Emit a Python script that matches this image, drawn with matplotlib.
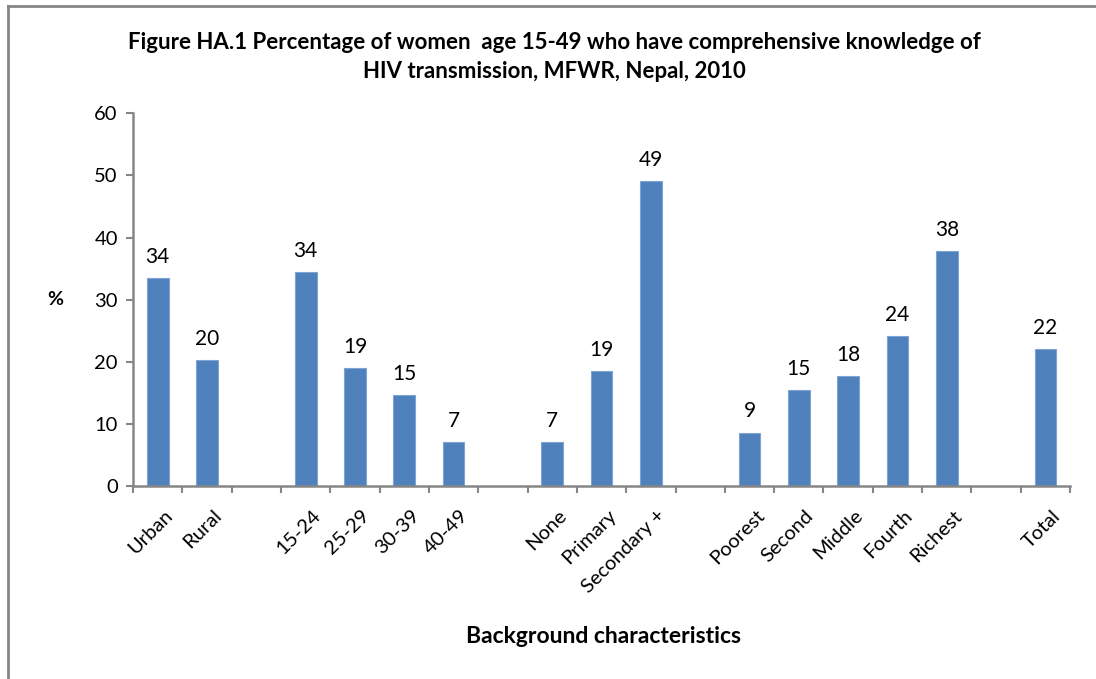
import matplotlib
matplotlib.use("Agg")
import matplotlib.pyplot as plt
from matplotlib.lines import Line2D

categories = ["Urban", "Rural", "", "15-24", "25-29", "30-39", "40-49", "",
              "None", "Primary", "Secondary +", "", "Poorest", "Second",
              "Middle", "Fourth", "Richest", "", "Total"]
values = [33.5, 20.3, None, 34.4, 19.0, 14.7, 7.0, None,
          7.0, 18.5, 49.1, None, 8.6, 15.5, 17.7, 24.1, 37.8, None, 22.0]
value_labels = ["34", "20", "", "34", "19", "15", "7", "",
                "7", "19", "49", "", "9", "15", "18", "24", "38", "", "22"]
yticks = [0, 10, 20, 30, 40, 50, 60]

plt.rcParams['font.family'] = ['Lato', 'DejaVu Sans']
gray = "#868686"
bar_color = "#4F81BD"

fig = plt.figure(figsize=(10.96, 6.79), dpi=100)
ax = fig.add_axes([0.1214, 0.2843, 0.8549, 0.5488])

xs = list(range(len(categories)))
for x, v, lab in zip(xs, values, value_labels):
    if v is None:
        continue
    ax.bar(x, v, width=0.44, color=bar_color, edgecolor="#7FA3D3", linewidth=0.8)
    ax.annotate(lab, (x, v), xytext=(0, 8), textcoords="offset points",
                ha="center", va="bottom", fontsize=15, color="black")

ax.set_xlim(-0.5, len(categories) - 0.5)
ax.set_ylim(0, 60)
ax.set_yticks(yticks)
ax.set_yticklabels([str(t) for t in yticks], fontsize=14.5)
ax.set_xticks([x + 0.12 for x in xs])
ax.set_xticklabels(categories, rotation=45, ha="right", rotation_mode="anchor",
                   fontsize=14.5)
ax.set_xticks([i - 0.5 for i in range(len(categories) + 1)], minor=True)
ax.tick_params(axis="x", which="major", length=0, pad=15)
ax.tick_params(axis="x", which="minor", length=5, color=gray, width=1.5, direction="out")
ax.tick_params(axis="y", length=5, color=gray, width=1.5, direction="out", pad=6)

for s in ["top", "right"]:
    ax.spines[s].set_visible(False)
for s in ["left", "bottom"]:
    ax.spines[s].set_color(gray)
    ax.spines[s].set_linewidth(1.8)

ax.set_ylabel("%", rotation=0, fontsize=14, fontweight="bold", labelpad=28, va="center")
fig.text(0.551, 0.062, "Background characteristics", ha="center", va="center",
         fontsize=16.5, fontweight="bold")
fig.text(0.506, 0.937, "Figure HA.1 Percentage of women  age 15-49 who have comprehensive knowledge of",
         ha="center", va="center", fontsize=16, fontweight="bold")
fig.text(0.506, 0.894, "HIV transmission, MFWR, Nepal, 2010",
         ha="center", va="center", fontsize=16, fontweight="bold")

# outer frame (left and top)
fig.add_artist(Line2D([8 / 1096, 8 / 1096], [0, 1 - 6 / 679], color=gray, linewidth=2,
                      transform=fig.transFigure))
fig.add_artist(Line2D([8 / 1096, 1], [1 - 6 / 679, 1 - 6 / 679], color=gray, linewidth=2,
                      transform=fig.transFigure))

fig.savefig("out.png", dpi=100)
